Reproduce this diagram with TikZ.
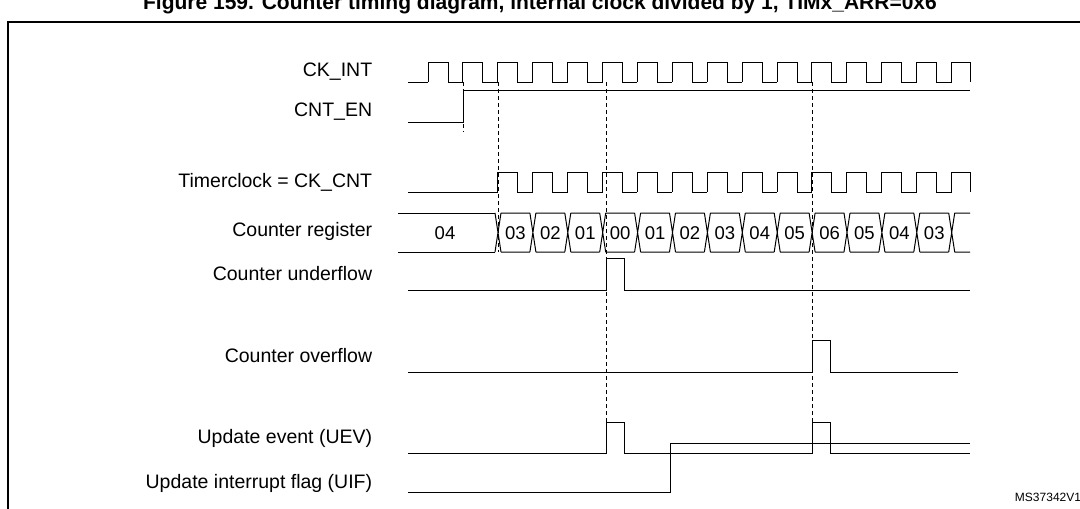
\documentclass[tikz,border=0pt]{standalone}
\usepackage{fontspec}
\setmainfont{Liberation Sans}
\usetikzlibrary{positioning}
\begin{document}
\begin{tikzpicture}[x=1pt,y=-1pt,line width=1pt,
	sig/.style={line width=1pt},
	guide/.style={dashed,line width=0.6pt,dash pattern=on 4pt off 3pt},
	lbl/.style={anchor=east,font=\fontsize{19.5}{22}\selectfont},
	val/.style={font=\fontsize{18.5}{21}\selectfont}]
	\useasboundingbox (0,0) rectangle (1080,509);
	\node[font=\bfseries\fontsize{21}{24}\selectfont] (title) at (540,4) {Figure 159. Counter timing diagram, internal clock divided by 1, TIMx\_ARR=0x6};
	\draw[line width=1.2pt] (8,509) -- (8,22) -- (1080,22);

	% labels
	\node[lbl] (ckint) at (376,72) {CK\_INT};
	\node[lbl] (cnten) at (376,112) {CNT\_EN};
	\node[lbl] (tclk) at (376,182) {Timerclock = CK\_CNT};
	\node[lbl] (creg) at (376,231) {Counter register};
	\node[lbl] (unf) at (376,274) {Counter underflow};
	\node[lbl] (ovf) at (376,356) {Counter overflow};
	\node[lbl] (uev) at (376,438) {Update event (UEV)};
	\node[lbl] (uif) at (376,483) {Update interrupt flag (UIF)};
	\node[font=\fontsize{12}{14}\selectfont] (ms) at (1048,497) {MS37342V1};

	% CK_INT
	\draw[sig] (408,82) -- (428,82);
	\foreach \k in {0,...,15}{
		\pgfmathsetmacro{\xr}{428+34.9*\k}
		\pgfmathsetmacro{\xf}{\xr+20}
		\pgfmathsetmacro{\xn}{min(\xr+34.9,970)}
		\ifnum\k<15
			\draw[sig] (\xr,82) -- (\xr,62) -- (\xf,62) -- (\xf,82) -- (\xn,82);
		\else
			\draw[sig] (\xr,82) -- (\xr,62) -- (970,62) -- (970,82);
		\fi
	}

	% CNT_EN
	\draw[sig] (408,122) -- (463,122) -- (463,90) -- (970,90);

	% Timerclock
	\draw[sig] (408,192) -- (498,192);
	\foreach \k in {2,...,15}{
		\pgfmathsetmacro{\xr}{428+34.9*\k}
		\pgfmathsetmacro{\xf}{\xr+20}
		\pgfmathsetmacro{\xn}{\xr+34.9}
		\ifnum\k<15
			\draw[sig] (\xr,192) -- (\xr,172) -- (\xf,172) -- (\xf,192) -- (\xn,192);
		\else
			\draw[sig] (\xr,192) -- (\xr,172) -- (970,172) -- (970,192);
		\fi
	}

	% Counter register
	\draw[sig] (398,213) -- (495,213) (398,252) -- (495,252);
	\node[val] (v04) at (445,233) {04};
	\foreach \v [count=\i from 0] in {03,02,01,00,01,02,03,04,05,06,05,04,03}{
		\pgfmathsetmacro{\xa}{498+34.9*\i}
		\pgfmathsetmacro{\xb}{\xa+34.9}
		\draw[sig] (\xa-3,213) -- (\xa+3,252) (\xa-3,252) -- (\xa+3,213)
			(\xa+3,213) -- (\xb-3,213) (\xa+3,252) -- (\xb-3,252);
		\node[val] at ({(\xa+\xb)/2},233) {\v};
	}
	\draw[sig] (948.7,213) -- (954.7,252) (948.7,252) -- (954.7,213)
		(954.7,213) -- (970,213) (954.7,252) -- (970,252);

	% underflow / overflow / UEV / UIF
	\draw[sig] (408,290) -- (606,290) -- (606,258) -- (624,258) -- (624,290) -- (970,290);
	\draw[sig] (408,372) -- (812,372) -- (812,340) -- (830,340) -- (830,372) -- (958,372);
	\draw[sig] (408,453) -- (606,453) -- (606,422) -- (624,422) -- (624,453)
		-- (812,453) -- (812,422) -- (830,422) -- (830,453) -- (970,453);
	\draw[sig] (408,492) -- (670,492) -- (670,443) -- (970,443);

	% guides
	\draw[guide] (463,82) -- (463,132);
	\draw[guide] (498,82) -- (498,252);
	\draw[guide] (606,82) -- (606,453);
	\draw[guide] (812,82) -- (812,453);
\end{tikzpicture}
\end{document}
